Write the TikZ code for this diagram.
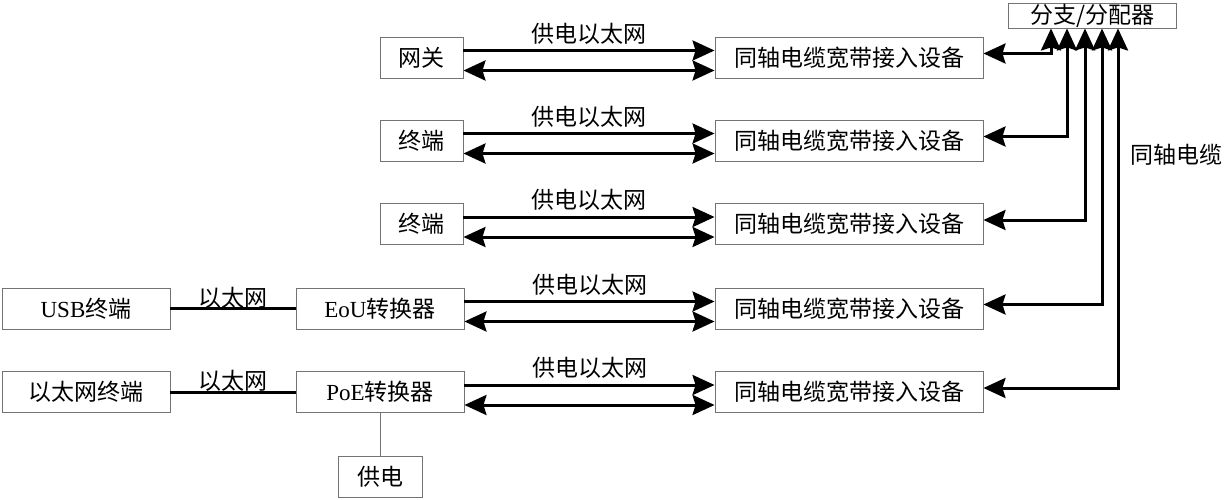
\documentclass[tikz,border=0pt]{standalone}
\usepackage{fontspec}
\setmainfont{Liberation Serif}
\newfontfamily\cjk{Noto Sans CJK SC}
\usetikzlibrary{arrows.meta,calc}
\begin{document}
\begin{tikzpicture}[x=1pt,y=-1pt,
  txt/.style={font=\fontsize{23}{26}\selectfont, inner sep=1pt},
  box/.style={txt, draw=black!55, line width=0.9pt, minimum height=41pt, inner sep=0pt},
  smallbox/.style={box, minimum width=83pt},
  widebox/.style={box, minimum width=168pt},
  devbox/.style={box, minimum width=268pt},
  tip/.tip={Stealth[length=22pt,width=20pt,inset=3pt]},
  link/.style={line width=3pt},
  fwd/.style={link, -tip},
  both/.style={link, tip-tip},
  thinline/.style={draw=black!55, line width=0.9pt}
]
\useasboundingbox (0,0) rectangle (1225,500);

% left-hand boxes
\node[smallbox] (gw) at (421.5,57.5) {\cjk 网关};
\node[smallbox] (t2) at (421.5,140.5) {\cjk 终端};
\node[smallbox] (t3) at (421.5,224) {\cjk 终端};
\node[widebox] (eou) at (380,308.5) {EoU{\cjk 转换器}};
\node[widebox] (poe) at (380,392) {PoE{\cjk 转换器}};
\node[widebox] (usb) at (86,308.5) {USB{\cjk 终端}};
\node[widebox] (eth) at (86,392) {\cjk 以太网终端};
\node[box, minimum width=84pt] (pw) at (380,476.5) {\cjk 供电};

% devices
\node[devbox] (d1) at (849,57.5) {\cjk 同轴电缆宽带接入设备};
\node[devbox] (d2) at (849,140.5) {\cjk 同轴电缆宽带接入设备};
\node[devbox] (d3) at (849,224) {\cjk 同轴电缆宽带接入设备};
\node[devbox] (d4) at (849,308.5) {\cjk 同轴电缆宽带接入设备};
\node[devbox] (d5) at (849,392) {\cjk 同轴电缆宽带接入设备};

% splitter
\node[box, minimum width=168pt, minimum height=25pt] (sp) at (1092,15.5) {\cjk 分支/分配器};
\node[txt] (coax) at (1176,155) {\cjk 同轴电缆};

% PoE links
\foreach \a/\b in {gw/d1,t2/d2,t3/d3,eou/d4,poe/d5}{
  \draw[fwd] ([yshift=7pt]\a.east) -- node[txt, above=4pt]{\cjk 供电以太网} ([yshift=7pt]\b.west);
  \draw[both] ([yshift=-13pt]\a.east) -- ([yshift=-13pt]\b.west);
}

% Ethernet links
\draw[link] (usb) -- node[txt, above=-2pt]{\cjk 以太网} (eou);
\draw[link] (eth) -- node[txt, above=-2pt]{\cjk 以太网} (poe);
\draw[thinline] (poe) -- (pw);

% coax links
\foreach \d/\dx in {d1/-41,d2/-25,d3/-7,d4/10,d5/26}{
  \draw[both] ([yshift=4pt]\d.east) -| ([xshift=\dx pt]sp.south);
}
\end{tikzpicture}
\end{document}
